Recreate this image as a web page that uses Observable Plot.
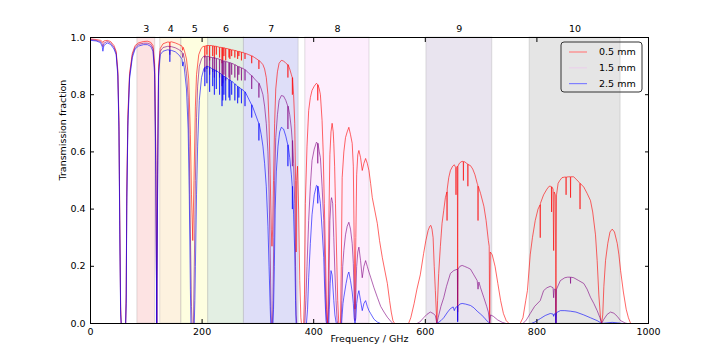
<!DOCTYPE html>
<html><head><meta charset="utf-8">
<script src="https://cdn.jsdelivr.net/npm/d3@7"></script>
<script src="https://cdn.jsdelivr.net/npm/@observablehq/plot@0.6"></script>
<style>
body{margin:0;background:#fff;}
#chart svg{display:block;}
</style></head><body><div id="chart"></div>
<script>
const bandNames = ["3","4","5","6","7","8","9","10"];
const bandLow = [84,125,163,211,275,385,602,787];
const bandHigh = [116,163,211,275,373,500,720,950];
const bandColors = ["#fde3e3","#fdf2df","#fefee0","#e3efe3","#dedef8","#fdeefd","#e9e4ef","#e5e5e5"];
const xTicks = [0,200,400,600,800,1000];
const yTicks = [0,0.2,0.4,0.6,0.8,1.0];
const seriesNames = ["0.5 mm","1.5 mm","2.5 mm"];
const seriesColors = ["#ff0000","#800080","#0000ff"];
const legendColors = ["#ff8080","#ead2ea","#8080ff"];

const trans05 = [[0,0.995],[10,0.993],[18,0.99],[21,0.986],[22.2,0.982],[24,0.988],[30,0.99],[36,0.986],[42,0.972],[46,0.952],[49,0.885],[51,0.71],[52.5,0.36],[54,0.06],[55,0],[63,0],[64,0.1],[65,0.46],[67,0.73],[70,0.875],[75,0.945],[80,0.972],[86,0.981],[95,0.986],[102,0.987],[108,0.983],[112,0.972],[115,0.905],[117,0.62],[118.75,0],[120.5,0.62],[122,0.9],[125,0.962],[130,0.978],[138,0.984],[141.8,0.984],[142.2,0.966],[142.6,0.984],[145,0.985],[152,0.981],[158,0.976],[164,0.97],[165.2,0.955],[166,0.966],[168,0.956],[172,0.925],[176,0.855],[179,0.66],[181,0.45],[183.3,0.29],[185.5,0.5],[188,0.76],[190,0.87],[194,0.94],[198,0.96],[201,0.968],[204.5,0.97],[204.9,0.93],[205.3,0.97],[208.3,0.972],[208.6,0.94],[208.9,0.972],[213.2,0.972],[213.5,0.92],[213.8,0.972],[216,0.972],[218.7,0.971],[219,0.935],[219.3,0.971],[221.7,0.97],[222,0.925],[222.3,0.97],[225.2,0.969],[225.5,0.94],[225.8,0.969],[231,0.966],[231.3,0.93],[231.6,0.966],[235.4,0.965],[235.7,0.91],[236,0.965],[236.8,0.965],[237.1,0.92],[237.4,0.964],[238.8,0.964],[239.1,0.935],[239.4,0.964],[242,0.962],[242.3,0.92],[242.6,0.962],[247.9,0.96],[248.2,0.93],[248.5,0.96],[249.5,0.959],[249.8,0.925],[250.1,0.959],[252.7,0.957],[253,0.935],[253.3,0.957],[258.4,0.955],[258.7,0.93],[259,0.955],[263.4,0.952],[263.7,0.925],[264,0.952],[265.6,0.951],[265.9,0.935],[266.2,0.951],[270.2,0.949],[270.5,0.92],[270.8,0.949],[276.6,0.945],[276.9,0.925],[277.2,0.945],[283.5,0.94],[288.6,0.936],[288.9,0.91],[289.2,0.936],[294,0.93],[301.5,0.92],[301.8,0.89],[302.1,0.92],[306,0.912],[309,0.905],[312,0.89],[315,0.86],[318,0.8],[320,0.7],[322,0.52],[324,0.33],[325.2,0.27],[326.5,0.33],[328,0.5],[330,0.7],[332,0.82],[335,0.88],[338,0.91],[342,0.92],[346,0.918],[350,0.91],[353.5,0.905],[353.8,0.86],[354.1,0.905],[357,0.89],[360,0.87],[361.5,0.86],[361.8,0.8],[362.1,0.86],[364,0.8],[366,0.7],[367.5,0.5],[368.5,0.25],[369.5,0.5],[371,0.55],[373,0.4],[375,0.15],[377,0.02],[378,0],[382,0],[383.5,0.1],[385,0.42],[388,0.62],[391,0.745],[394,0.79],[397,0.815],[401,0.83],[405,0.84],[407,0.835],[407.3,0.78],[407.6,0.835],[410,0.82],[412,0.8],[415,0.71],[417,0.6],[419,0.42],[421,0.25],[423,0.05],[424.8,0],[426,0.1],[427.5,0.4],[429,0.59],[431,0.67],[433,0.7],[435,0.67],[436,0.63],[437.5,0.55],[439,0.42],[441,0.25],[443,0.08],[445,0],[448,0],[449.5,0.2],[451,0.51],[454,0.6],[457,0.65],[460,0.67],[463,0.686],[466,0.66],[469,0.63],[471,0.55],[472.5,0.3],[474,0.05],[475.5,0.3],[477,0.52],[479,0.59],[481,0.605],[484,0.58],[487,0.535],[490,0.56],[493,0.577],[496,0.56],[499,0.535],[502,0.49],[505,0.44],[509,0.4],[514,0.35],[518,0.29],[523,0.23],[528,0.18],[532,0.14],[536,0.08],[539,0.04],[542,0.01],[545,0],[570,0],[574,0.02],[580,0.07],[585,0.12],[591,0.17],[597,0.245],[601,0.29],[605,0.325],[608,0.34],[610,0.343],[612,0.33],[614,0.3],[616,0.2],[618,0.115],[620.7,0],[622,0.08],[624,0.175],[627,0.27],[630,0.35],[633,0.395],[636,0.44],[638.7,0.46],[639,0.36],[639.3,0.47],[642,0.51],[645,0.535],[649,0.55],[652,0.555],[654.5,0.545],[655,0.45],[655.5,0.545],[657.5,0.55],[658,0.04],[658.5,0.55],[661,0.56],[664,0.565],[666,0.567],[668,0.566],[668.3,0.5],[668.6,0.566],[671,0.565],[674,0.56],[676,0.558],[676.3,0.48],[676.6,0.556],[681,0.552],[685,0.54],[689,0.52],[693,0.49],[694,0.485],[694.5,0.36],[695,0.48],[699,0.455],[705,0.41],[709,0.36],[713,0.29],[714.5,0.27],[715.4,0],[716.5,0.25],[720,0.24],[725,0.2],[730,0.14],[735,0.08],[740,0.035],[745,0.01],[750,0],[770,0],[775,0.02],[780,0.08],[783,0.115],[788,0.24],[792,0.3],[797,0.36],[802,0.4],[805.7,0.415],[806,0.3],[806.3,0.42],[812,0.45],[818,0.47],[822,0.48],[824,0.48],[826,0.478],[826.3,0.39],[826.6,0.478],[829,0.47],[830,0.255],[831,0.46],[833,0.45],[834.1,0],[835.2,0.45],[838,0.49],[841,0.5],[845,0.51],[850,0.512],[852,0.512],[852.3,0.45],[852.6,0.512],[857,0.513],[860,0.513],[860.3,0.44],[860.6,0.513],[866,0.513],[870,0.505],[875,0.495],[877,0.49],[877.3,0.4],[877.6,0.49],[884,0.477],[890,0.455],[896,0.43],[900,0.39],[905,0.31],[908,0.22],[911,0.1],[914,0.02],[916,0],[918,0.03],[920,0.13],[923,0.22],[927,0.28],[931,0.32],[935,0.33],[939,0.32],[944,0.28],[947,0.24],[950,0.185],[955,0.11],[960,0.05],[964,0.02],[968,0],[1000,0]];

const trans15 = [[0,0.993],[10,0.99],[18,0.986],[21,0.978],[22.2,0.968],[24,0.98],[30,0.986],[36,0.981],[42,0.966],[46,0.946],[49,0.875],[51,0.69],[52.5,0.34],[54,0.05],[55,0],[63,0],[64,0.09],[65,0.44],[67,0.71],[70,0.865],[75,0.938],[80,0.966],[86,0.976],[95,0.98],[102,0.98],[108,0.976],[112,0.962],[115,0.89],[117,0.57],[118.75,0],[120.5,0.57],[122,0.885],[125,0.952],[130,0.965],[138,0.969],[141.8,0.969],[142.2,0.94],[142.6,0.969],[145,0.968],[152,0.964],[158,0.958],[164,0.95],[165.2,0.93],[166,0.945],[168,0.928],[172,0.875],[175,0.79],[177,0.62],[179,0.32],[181,0.06],[182,0],[184.5,0],[186,0.2],[188,0.5],[190,0.72],[192,0.83],[195,0.9],[199,0.925],[203,0.935],[204.5,0.935],[204.9,0.88],[205.3,0.935],[208.3,0.935],[208.6,0.89],[208.9,0.935],[213.2,0.932],[213.5,0.87],[213.8,0.932],[216,0.93],[218.7,0.93],[219,0.88],[219.3,0.93],[221.7,0.929],[222,0.86],[222.3,0.929],[225.2,0.927],[225.5,0.88],[225.8,0.927],[231,0.924],[231.3,0.86],[231.6,0.924],[235.4,0.92],[235.7,0.83],[236,0.92],[236.8,0.92],[237.1,0.84],[237.4,0.919],[238.8,0.918],[239.1,0.87],[239.4,0.918],[242,0.916],[242.3,0.85],[242.6,0.916],[247.9,0.913],[248.2,0.86],[248.5,0.913],[249.5,0.912],[249.8,0.85],[250.1,0.912],[252.7,0.91],[253,0.87],[253.3,0.91],[258.4,0.905],[258.7,0.86],[259,0.905],[263.4,0.9],[263.7,0.85],[264,0.9],[265.6,0.898],[265.9,0.87],[266.2,0.898],[270.2,0.894],[270.5,0.85],[270.8,0.894],[276.6,0.888],[276.9,0.85],[277.2,0.888],[283.5,0.875],[288.6,0.867],[288.9,0.82],[289.2,0.867],[294,0.855],[301.5,0.84],[301.8,0.79],[302.1,0.84],[306,0.82],[309,0.8],[312,0.76],[315,0.7],[318,0.6],[320,0.46],[322,0.25],[323.5,0.05],[324.5,0],[326,0],[327,0.08],[328.5,0.3],[330,0.5],[332,0.65],[335,0.73],[338,0.78],[342,0.797],[346,0.795],[350,0.78],[353.5,0.76],[353.8,0.68],[354.1,0.76],[357,0.73],[360,0.68],[361.5,0.64],[361.8,0.55],[362.1,0.64],[364,0.56],[366,0.42],[367.5,0.2],[368.5,0.03],[369.5,0],[384,0],[386,0.08],[388,0.2],[391,0.36],[394,0.48],[397,0.57],[401,0.61],[405,0.634],[407,0.63],[407.3,0.56],[407.6,0.63],[410,0.6],[412,0.58],[415,0.48],[418,0.36],[420,0.2],[422,0.05],[423.5,0],[426,0],[427.5,0.15],[429,0.36],[431,0.43],[432,0.44],[434,0.42],[436,0.3],[438,0.18],[440,0.08],[442,0.01],[443,0],[449,0],[450.5,0.08],[452,0.2],[454,0.255],[457,0.31],[460,0.34],[463,0.354],[466,0.33],[469,0.28],[471,0.21],[472.5,0.1],[474,0.01],[475.5,0.1],[477,0.2],[479,0.25],[481,0.267],[484,0.22],[487,0.16],[490,0.2],[493,0.22],[496,0.2],[499,0.18],[502,0.162],[508,0.125],[514,0.092],[520,0.06],[526,0.04],[532,0.022],[538,0.008],[542,0],[585,0],[590,0.005],[597,0.02],[603,0.032],[609,0.04],[614,0.035],[618,0.028],[620.7,0],[623,0.02],[628,0.06],[633,0.09],[638,0.13],[645,0.175],[651,0.185],[657.5,0.19],[658,0.01],[658.5,0.19],[662,0.2],[666,0.203],[670,0.2],[676,0.195],[681,0.19],[687,0.17],[693,0.15],[694.5,0.12],[696,0.145],[699,0.125],[705,0.09],[710,0.06],[713,0.04],[715.4,0],[717,0.03],[722,0.025],[730,0.012],[738,0.004],[745,0],[775,0],[781,0.012],[788,0.035],[796,0.06],[806,0.08],[812,0.115],[818,0.125],[824,0.13],[829,0.125],[830,0.09],[831,0.12],[833,0.12],[834.1,0],[835.2,0.12],[842,0.15],[850,0.16],[855,0.162],[860,0.162],[860.3,0.14],[860.6,0.162],[866,0.16],[875,0.15],[884,0.14],[890,0.12],[896,0.092],[902,0.07],[908,0.045],[913,0.02],[916,0],[920,0.015],[926,0.032],[932,0.04],[938,0.036],[944,0.025],[950,0.01],[958,0.002],[962,0],[1000,0]];

const trans25 = [[0,0.99],[10,0.988],[18,0.982],[21,0.968],[22.2,0.952],[24,0.972],[30,0.981],[36,0.976],[42,0.96],[46,0.94],[49,0.865],[51,0.67],[52.5,0.31],[54,0.03],[55,0],[63,0],[64,0.07],[65,0.41],[67,0.69],[70,0.855],[75,0.93],[80,0.96],[86,0.97],[95,0.975],[102,0.975],[108,0.969],[112,0.952],[115,0.87],[117,0.52],[118.75,0],[120.5,0.52],[122,0.865],[125,0.94],[130,0.952],[138,0.957],[141.8,0.956],[142.2,0.915],[142.6,0.956],[145,0.955],[152,0.95],[158,0.94],[164,0.925],[165.2,0.9],[166,0.915],[168,0.895],[172,0.82],[175,0.68],[177,0.45],[179,0.12],[180,0],[186,0],[187,0.08],[188,0.2],[190,0.45],[192,0.62],[195,0.78],[199,0.86],[203,0.89],[204.5,0.895],[204.9,0.83],[205.3,0.895],[208.3,0.9],[208.6,0.84],[208.9,0.9],[213.2,0.896],[213.5,0.81],[213.8,0.896],[216,0.893],[218.7,0.89],[219,0.83],[219.3,0.89],[221.7,0.887],[222,0.8],[222.3,0.887],[225.2,0.884],[225.5,0.82],[225.8,0.884],[231,0.876],[231.3,0.8],[231.6,0.876],[235.4,0.87],[235.7,0.76],[236,0.87],[236.8,0.868],[237.1,0.78],[237.4,0.867],[238.8,0.865],[239.1,0.8],[239.4,0.865],[242,0.86],[242.3,0.78],[242.6,0.86],[247.9,0.853],[248.2,0.79],[248.5,0.853],[249.5,0.851],[249.8,0.78],[250.1,0.851],[252.7,0.847],[253,0.8],[253.3,0.847],[258.4,0.838],[258.7,0.78],[259,0.838],[263.4,0.83],[263.7,0.77],[264,0.83],[265.6,0.826],[265.9,0.79],[266.2,0.826],[270.2,0.82],[270.5,0.77],[270.8,0.82],[276.6,0.81],[276.9,0.76],[277.2,0.81],[283.5,0.785],[288.6,0.765],[288.9,0.72],[289.2,0.765],[294,0.74],[301.5,0.7],[301.8,0.64],[302.1,0.7],[306,0.66],[309,0.62],[312,0.56],[315,0.48],[318,0.34],[320,0.2],[322,0.06],[323,0],[327,0],[328,0.05],[329.5,0.2],[331,0.4],[333,0.53],[336,0.62],[339,0.67],[342,0.686],[346,0.68],[350,0.655],[353.5,0.625],[353.8,0.55],[354.1,0.625],[357,0.58],[360,0.52],[361.5,0.48],[361.8,0.4],[362.1,0.48],[364,0.38],[366,0.25],[367.5,0.08],[368.5,0],[387,0],[389,0.05],[391,0.16],[394,0.28],[397,0.38],[401,0.45],[405,0.483],[407,0.48],[407.3,0.42],[407.6,0.48],[410,0.45],[412,0.42],[415,0.33],[418,0.23],[420,0.1],[422,0.01],[423,0],[427,0],[428,0.05],[429.5,0.14],[431,0.185],[433,0.17],[436,0.08],[438,0.03],[440,0.005],[441,0],[450,0],[451,0.03],[452.5,0.07],[454,0.092],[458,0.14],[461,0.17],[463,0.18],[466,0.15],[469,0.11],[471,0.07],[472.5,0.02],[474,0],[475.5,0.02],[477,0.07],[479,0.1],[481,0.115],[484,0.08],[487,0.045],[490,0.07],[493,0.08],[496,0.06],[499,0.045],[502,0.035],[508,0.015],[514,0.005],[520,0],[620,0],[623,0.003],[628,0.01],[633,0.02],[640,0.04],[645,0.052],[650,0.058],[652,0.045],[654,0.055],[657.5,0.06],[658,0.005],[658.5,0.06],[662,0.068],[666,0.07],[672,0.068],[681,0.063],[687,0.055],[693,0.043],[699,0.033],[705,0.022],[710,0.01],[713,0.005],[716,0],[790,0],[796,0.005],[806,0.017],[815,0.028],[824,0.035],[829,0.033],[830,0.025],[831,0.033],[833,0.035],[834.1,0],[835.2,0.038],[842,0.045],[850,0.045],[860,0.043],[870,0.04],[884,0.03],[896,0.02],[908,0.01],[914,0.003],[916,0],[925,0.002],[935,0.004],[945,0.002],[955,0],[1000,0]];

const bands = bandNames.map((name, i) => ({name, lo: bandLow[i], hi: bandHigh[i], color: bandColors[i]}));
const seriesData = [trans05, trans15, trans25];

function legendMark(index, scales, values, dims) {
  const g = d3.create("svg:g");
  const right = dims.width - dims.marginRight - 6;
  const top = dims.marginTop + 5;
  const w = 81, h = 50;
  g.append("rect").attr("x", right - w).attr("y", top).attr("width", w).attr("height", h)
    .attr("rx", 3).attr("fill", "none").attr("stroke", "#333").attr("stroke-width", 1);
  seriesNames.forEach((name, i) => {
    const y = top + 10 + i * 15.8;
    g.append("line").attr("x1", right - w + 8).attr("x2", right - w + 26).attr("y1", y).attr("y2", y)
      .attr("stroke", legendColors[i]).attr("stroke-width", 1.2);
    g.append("text").attr("x", right - w + 38).attr("y", y).attr("dy", "0.35em")
      .attr("text-anchor", "start").attr("fill", "black").text(name);
  });
  return g.node();
}

const lineMarks = seriesData.map((data, i) =>
  Plot.line(data, {x: d => d[0], y: d => d[1], stroke: seriesColors[i], strokeOpacity: 0.6, strokeWidth: 1})
);

const chart = Plot.plot({
  width: 720, height: 360,
  marginLeft: 90, marginRight: 72, marginTop: 37, marginBottom: 37,
  x: {domain: [0, 1000]},
  y: {domain: [0, 1]},
  color: {type: "identity"},
  style: {fontFamily: "DejaVu Sans, sans-serif", fontSize: "9.5px", color: "black", background: "white", overflow: "visible"},
  marks: [
    Plot.rect(bands, {x1: "lo", x2: "hi", fill: d => d.color, stroke: "#888", strokeOpacity: 0.25}),
    ...lineMarks,
    Plot.frame({stroke: "black", strokeWidth: 1}),
    Plot.axisX({ticks: xTicks, tickSize: 0, tickPadding: 5, tickFormat: d => String(d), label: null}),
    Plot.axisY({ticks: yTicks, tickSize: 0, tickPadding: 5, tickFormat: d3.format(".1f"), label: null}),
    Plot.axisX({anchor: "bottom", ticks: xTicks, tickSize: 4, dy: -4, fill: "none", label: null}),
    Plot.axisX({anchor: "top", ticks: xTicks, tickSize: 4, dy: 4, fill: "none", label: null}),
    Plot.axisY({anchor: "left", ticks: yTicks, tickSize: 4, dx: 4, fill: "none", label: null}),
    Plot.axisY({anchor: "right", ticks: yTicks, tickSize: 4, dx: -4, fill: "none", label: null}),
    Plot.text(bands, {x: d => (d.lo + d.hi) / 2, frameAnchor: "top", dy: -12, text: "name", fill: "black"}),
    Plot.text(["Frequency / GHz"], {frameAnchor: "bottom", dy: 18, text: d => d, fill: "black"}),
    Plot.text(["Transmission fraction"], {frameAnchor: "left", dx: -28, rotate: -90, text: d => d, fill: "black"}),
    legendMark
  ]
});
document.getElementById("chart").appendChild(chart);
</script></body></html>
